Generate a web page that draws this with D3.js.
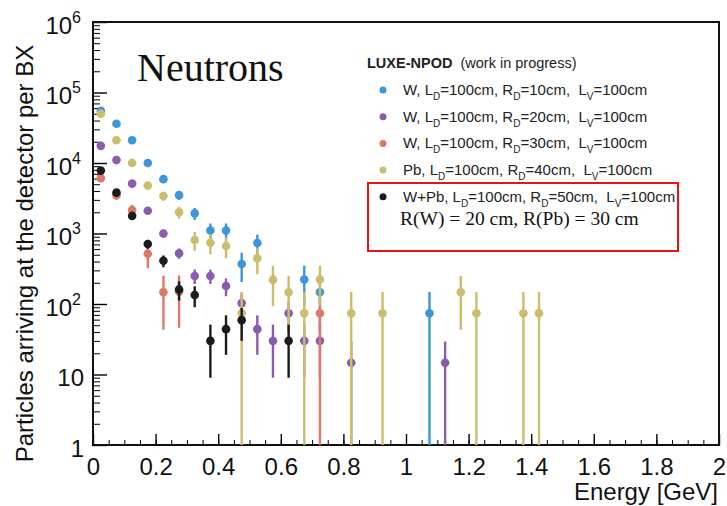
<!DOCTYPE html>
<html lang="en">
    <head>
        <meta charset="utf-8">
        <title>Neutrons</title>
        <script src="https://cdn.jsdelivr.net/npm/d3@7"></script>
        <style type="text/css">
            body { margin: 0; background: #fff; }
            svg text { white-space: pre; }
        </style>
    </head>
    <body>
        <script type="text/javascript">

            //Width and height
            var w = 727;
            var h = 506;

            //Data: [energy bin centre (GeV), particles per BX, error]
            var wR10 = [
                [0.025, 55000, 2000], [0.075, 36000, 1600], [0.125, 21000, 1250],
                [0.175, 10000, 860], [0.225, 5900, 660], [0.275, 3500, 510],
                [0.325, 1930, 375], [0.375, 1100, 285], [0.425, 1100, 285],
                [0.475, 370, 165], [0.525, 735, 232], [0.675, 222, 127],
                [0.725, 147, 104], [1.075, 74, 74]
            ];
            var wR20 = [
                [0.025, 17500, 510], [0.075, 11000, 400], [0.125, 5100, 275],
                [0.175, 2100, 175], [0.225, 1000, 121], [0.275, 525, 88],
                [0.325, 250, 58], [0.375, 250, 58], [0.425, 180, 51],
                [0.475, 103, 39], [0.525, 44, 25], [0.575, 30, 21],
                [0.625, 74, 33], [0.675, 30, 21], [0.725, 30, 21],
                [0.825, 14.7, 14.7], [1.125, 14.7, 14.7]
            ];
            var wR30 = [
                [0.025, 6100, 580], [0.075, 3500, 510], [0.125, 2150, 400],
                [0.175, 515, 195], [0.225, 147, 104], [0.275, 150, 104],
                [0.725, 74, 74]
            ];
            var pbR40 = [
                [0.025, 50000, 1900], [0.075, 21000, 1250], [0.125, 10000, 860],
                [0.175, 4800, 595], [0.225, 3400, 500], [0.275, 2000, 383],
                [0.325, 810, 244], [0.375, 740, 233], [0.425, 665, 221],
                [0.475, 74, 74], [0.525, 445, 180], [0.575, 220, 127],
                [0.625, 147, 104], [0.675, 74, 74], [0.725, 222, 127],
                [0.825, 74, 74], [0.925, 74, 74], [1.175, 147, 104],
                [1.225, 74, 74], [1.375, 74, 74], [1.425, 74, 74]
            ];
            var wpbR50 = [
                [0.025, 7800, 340], [0.075, 3800, 236], [0.125, 1780, 162],
                [0.175, 710, 102], [0.225, 410, 78], [0.275, 161, 49],
                [0.325, 134, 44], [0.375, 30, 21], [0.425, 44, 25],
                [0.475, 59, 29], [0.625, 30, 21]
            ];

            //Legend: material, R_D and colours, in drawing order
            var materials = ["W", "W", "W", "Pb", "W+Pb"];
            var radii = ["10", "20", "30", "40", "50"];
            var colors = ["#3e96d9", "#8a5cae", "#dc7a69", "#cbbd6c", "#1b1b1b"];
            var allSeries = [wR10, wR20, wR30, pbR40, wpbR50];

            //Tick values
            var xTicks = [0, 0.2, 0.4, 0.6, 0.8, 1, 1.2, 1.4, 1.6, 1.8, 2];
            var yTicks = [1, 10, 100, 1000, 10000, 100000, 1000000];

            var margin = {left: 93, right: 8, top: 22, bottom: 61};

            var svg = d3.select("body")
                        .append("svg")
                        .attr("width", w)
                        .attr("height", h);

            var x = d3.scaleLinear().domain([0, 2]).range([margin.left, w - margin.right]);
            var y = d3.scaleLog().domain([1, 1e6]).range([h - margin.bottom, margin.top]);

            var font = "'Liberation Sans', Arial, sans-serif";
            var serif = "'Liberation Serif', 'Times New Roman', serif";

            //Minor x ticks every 0.05
            var xMinor = d3.range(0, 41).map(function(i) { return i * 0.05; });
            svg.append("g")
                .attr("transform", "translate(0," + y(1) + ")")
                .call(d3.axisBottom(x).tickValues(xMinor).tickSize(-5).tickFormat(""))
                .call(function(g) { g.select(".domain").remove(); });

            //Major x ticks with labels
            var xAxis = svg.append("g")
                .attr("transform", "translate(0," + y(1) + ")")
                .call(d3.axisBottom(x).tickValues(xTicks).tickSize(-11).tickPadding(13)
                        .tickFormat(function(d) { return d3.format("")(d); }));
            xAxis.select(".domain").remove();
            xAxis.selectAll("text")
                .attr("font-family", font)
                .attr("font-size", 24)
                .attr("fill", "#111");
            xAxis.selectAll("line").attr("stroke-width", 1.4);

            //Minor y ticks 2..9 per decade
            var yMinor = [];
            yTicks.slice(0, -1).forEach(function(d) {
                for (var k = 2; k < 10; k++) yMinor.push(d * k);
            });
            svg.append("g")
                .attr("transform", "translate(" + x(0) + ",0)")
                .call(d3.axisLeft(y).tickValues(yMinor).tickSize(-7).tickFormat(""))
                .call(function(g) { g.select(".domain").remove(); });

            //Major y ticks with 10^n labels
            var yAxis = svg.append("g")
                .attr("transform", "translate(" + x(0) + ",0)")
                .call(d3.axisLeft(y).tickValues(yTicks).tickSize(-14).tickFormat(""));
            yAxis.select(".domain").remove();
            yAxis.selectAll("line").attr("stroke-width", 1.4);
            yAxis.selectAll(".tick")
                .append("text")
                .attr("x", function(d) { return d >= 100 ? -12 : -9; })
                .attr("y", 11)
                .attr("text-anchor", "end")
                .attr("font-family", font)
                .attr("font-size", 24)
                .attr("fill", "#111")
                .each(function(d) {
                    var t = d3.select(this);
                    if (d < 100) { t.text(d); return; }
                    t.append("tspan").text("10");
                    t.append("tspan")
                        .attr("font-size", 16)
                        .attr("dy", -11)
                        .text(Math.round(Math.log10(d)));
                });

            //Frame
            svg.append("rect")
                .attr("x", x(0))
                .attr("y", y(1e6))
                .attr("width", x(2) - x(0))
                .attr("height", y(1) - y(1e6))
                .attr("fill", "none")
                .attr("stroke", "#111")
                .attr("stroke-width", 2);

            //Error bars and markers, series by series
            var plot = svg.append("g");
            allSeries.forEach(function(series, i) {
                var g = plot.append("g");
                g.selectAll("line")
                    .data(series)
                    .enter()
                    .append("line")
                    .attr("x1", function(d) { return x(d[0]); })
                    .attr("x2", function(d) { return x(d[0]); })
                    .attr("y1", function(d) { return d[1] - d[2] > 1 ? y(d[1] - d[2]) : y(1); })
                    .attr("y2", function(d) { return y(d[1] + d[2]); })
                    .attr("stroke", colors[i])
                    .attr("stroke-width", 2.4);
                g.selectAll("circle")
                    .data(series)
                    .enter()
                    .append("circle")
                    .attr("cx", function(d) { return x(d[0]); })
                    .attr("cy", function(d) { return y(d[1]); })
                    .attr("r", 4.3)
                    .attr("fill", colors[i]);
            });

            //Axis titles
            svg.append("text")
                .attr("transform", "translate(33," + ((y(1) + y(1e6)) / 2 + 20) + ") rotate(-90)")
                .attr("text-anchor", "middle")
                .attr("font-family", font)
                .attr("font-size", 24)
                .attr("fill", "#111")
                .text("Particles arriving at the detector per BX");

            svg.append("text")
                .attr("x", 718)
                .attr("y", 500)
                .attr("text-anchor", "end")
                .attr("font-family", font)
                .attr("font-size", 24)
                .attr("fill", "#111")
                .text("Energy [GeV]");

            //Big label
            svg.append("text")
                .attr("x", 137)
                .attr("y", 81)
                .attr("font-family", serif)
                .attr("font-size", 40)
                .attr("fill", "#111")
                .text("Neutrons");

            //Legend
            var legend = svg.append("g").attr("font-family", font).attr("fill", "#222");
            var title = legend.append("text").attr("x", 367).attr("y", 68).attr("font-size", 14.5);
            title.append("tspan").attr("font-weight", "bold").text("LUXE-NPOD");
            title.append("tspan").text("  (work in progress)");

            var rows = legend.selectAll("g.row")
                .data(materials)
                .enter()
                .append("g")
                .attr("class", "row")
                .attr("transform", function(d, i) { return "translate(0," + (90 + i * 26.7) + ")"; });

            rows.append("circle")
                .attr("cx", 383)
                .attr("cy", 0)
                .attr("r", 3.5)
                .attr("fill", function(d, i) { return colors[i]; });

            //Entry text with D and V subscripts
            rows.append("text")
                .attr("x", 403)
                .attr("y", 5)
                .attr("font-size", 15)
                .each(function(d, i) {
                    var t = d3.select(this);
                    var parts = [
                        [d + ", L", false], ["D", true], ["=100cm, R", false], ["D", true],
                        ["=" + radii[i] + "cm,  L", false], ["V", true], ["=100cm", false]
                    ];
                    var prevSub = false;
                    parts.forEach(function(p) {
                        t.append("tspan")
                            .attr("font-size", p[1] ? 10 : 15)
                            .attr("dy", p[1] ? 5 : (prevSub ? -5 : 0))
                            .text(p[0]);
                        prevSub = p[1];
                    });
                });

            //Red box note
            svg.append("rect")
                .attr("x", 368)
                .attr("y", 183)
                .attr("width", 310)
                .attr("height", 68)
                .attr("fill", "none")
                .attr("stroke", "#e81313")
                .attr("stroke-width", 2);

            svg.append("text")
                .attr("x", 400)
                .attr("y", 225)
                .attr("font-family", serif)
                .attr("font-size", 19.5)
                .attr("fill", "#111")
                .text("R(W) = 20 cm, R(Pb) = 30 cm");
        </script>
    </body>
</html>
